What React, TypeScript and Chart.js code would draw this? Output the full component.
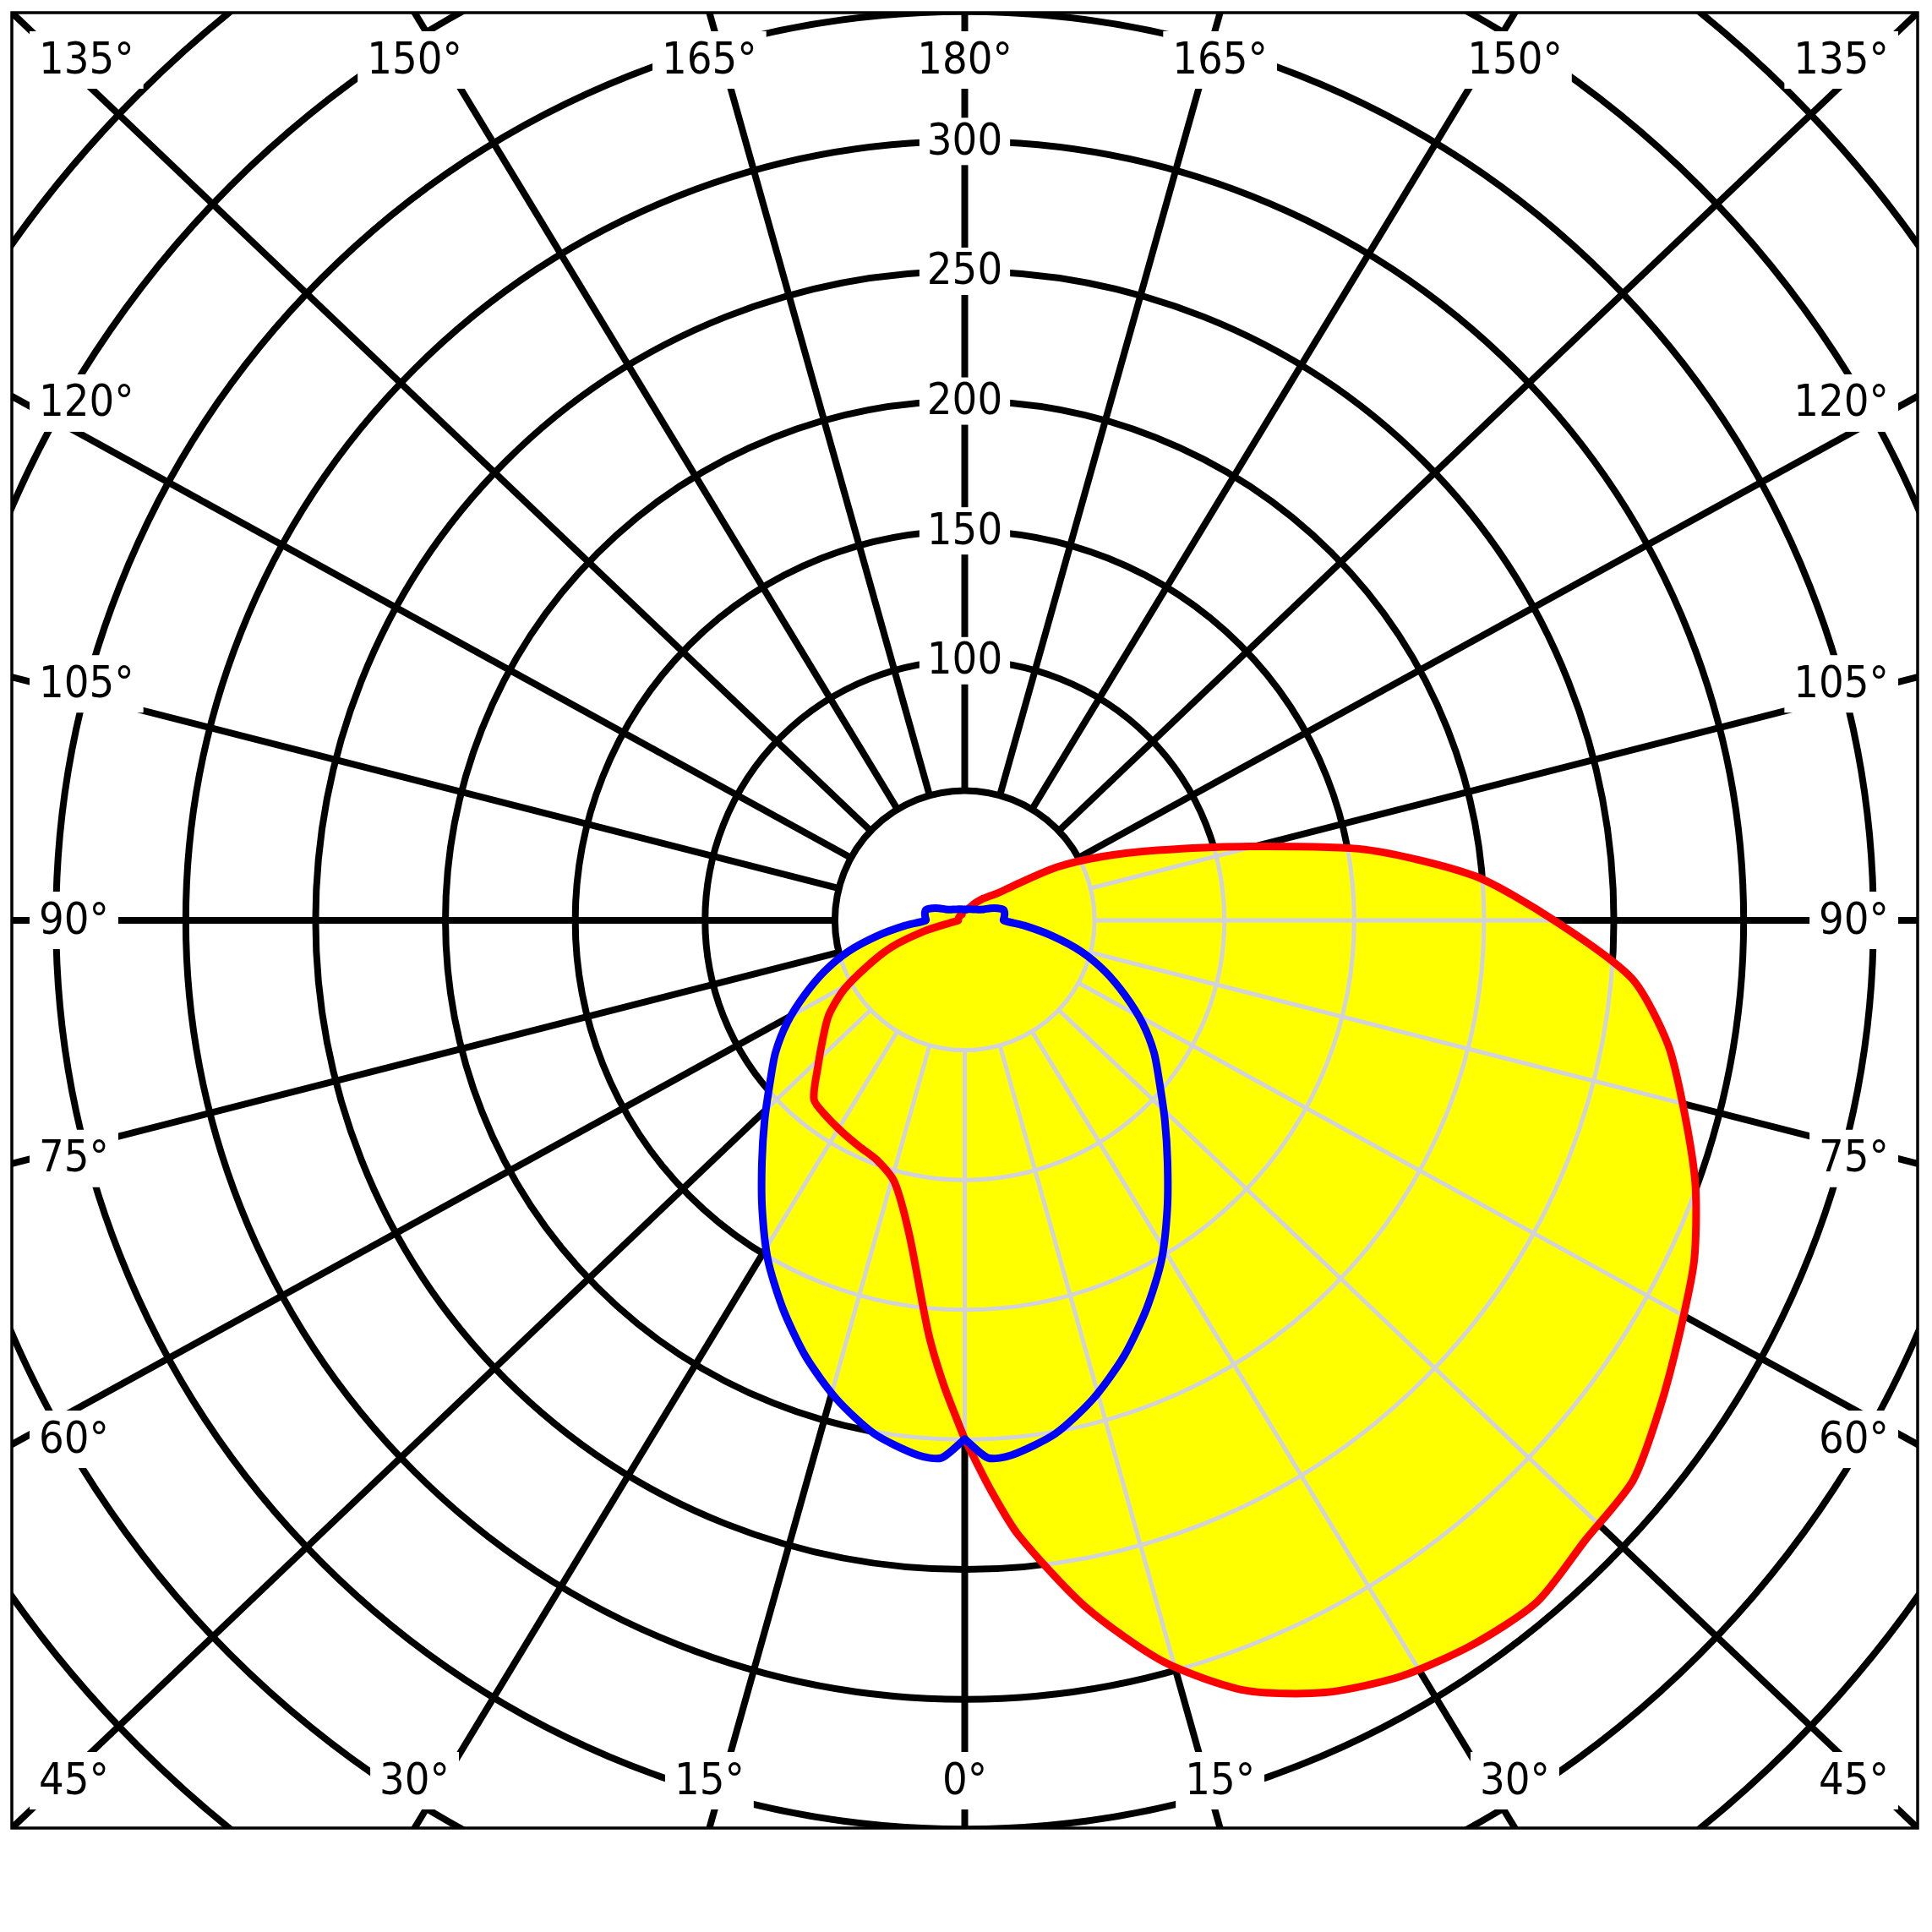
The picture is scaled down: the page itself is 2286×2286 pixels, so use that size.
import React, { useEffect, useRef } from "react";
import { Chart, registerables } from "chart.js";

Chart.register(...registerables);

// Polar angles (gamma, 0° = straight down, 180° = straight up)
const GAMMA = [0, 2.5, 5, 10, 15, 20, 25, 30, 35, 40, 45, 50, 55, 60, 65, 70, 75, 80, 85, 90,
  95, 100, 105, 110, 115, 120, 125, 130, 135, 140, 145, 150, 155, 160, 165, 170, 175, 180];

// Red curve: C0 half (right) and C180 half (left), cd/klm
const RED_C0 = [200, 219, 238, 269, 296, 316, 328.5, 336.5, 341, 343, 338, 336, 327, 318, 310, 299.5,
  287, 275, 258, 227, 197, 157, 110, 79, 58, 41, 24, 16, 13, 11, 9, 7.5, 6, 5, 4.5, 4.3, 4.2, 4.2];
const RED_C180 = [200, 180, 160, 123, 104.5, 98.5, 96.2, 94.3, 92.5, 90.3, 80, 71.4, 64, 54, 41, 29.7,
  16, 6, 3, 2.5, 2.5, 2.5, 2.5, 2.5, 2.5, 2.5, 2.5, 2.5, 2.5, 2.5, 2.5, 2.5, 2.5, 3, 3.5, 4, 4.2, 4.2];

// Blue curve: C90 half (right) and C270 half (left)
const BLUE_C90 = [200, 207.5, 207, 201, 191, 179, 165.5, 151.5, 136, 121.5, 109, 98, 89, 79, 68, 57.5,
  46.5, 34, 23, 15, 15.3, 15.6, 15.5, 13.5, 11, 8.5, 7.3, 6.5, 6, 5.5, 5.2, 5, 4.8, 4.6, 4.5, 4.3, 4.2, 4.2];
const BLUE_C270 = [200, 207.5, 207, 201, 191, 179, 165.5, 151.5, 136, 121.5, 109, 98, 89, 79, 68, 57.5,
  46.5, 34, 23, 15, 15.3, 15.6, 15.5, 13.5, 11, 8.5, 7.3, 6.5, 6, 5.5, 5.2, 5, 4.8, 4.6, 4.5, 4.3, 4.2, 4.2];

// Grid
const RING_VALUES = [50, 100, 150, 200, 250, 300, 350, 400, 450];
const RING_LABEL_VALUES = [100, 150, 200, 250, 300];
const SPOKE_ANGLES = [0, 15, 30, 45, 60, 75, 90, 105, 120, 135, 150, 165, 180];
const X_LIMIT = 367;
const Y_LIMIT = 350;

const FONT = '52px "DejaVu Sans Condensed", "Liberation Sans", sans-serif';
const GRID_DARK = "#000000";
const GRID_LIGHT = "#d2d2da";
const FILL = "#ffff00";

function toXY(values: number[], side: number) {
  return GAMMA.map((g, i) => {
    const rad = (g * Math.PI) / 180;
    return { x: side * values[i] * Math.sin(rad), y: -values[i] * Math.cos(rad) };
  });
}

function loop(right: number[], left: number[]) {
  const r = toXY(right, 1);
  const l = toXY(left, -1).reverse();
  return [...r, ...l];
}

function geom(chart: any) {
  const xs = chart.scales.x;
  const ys = chart.scales.y;
  const cx = xs.getPixelForValue(0);
  const cy = ys.getPixelForValue(0);
  const ppu = Math.abs(xs.getPixelForValue(100) - cx) / 100;
  return { xs, ys, cx, cy, ppu };
}

function drawGrid(ctx: CanvasRenderingContext2D, chart: any, color: string, width: number) {
  const { xs, ys, cx, cy, ppu } = geom(chart);
  ctx.strokeStyle = color;
  ctx.lineWidth = width;
  ctx.lineCap = "butt";
  RING_VALUES.forEach((v) => {
    ctx.beginPath();
    ctx.arc(cx, cy, v * ppu, 0, Math.PI * 2);
    ctx.stroke();
  });
  const inner = RING_VALUES[0] * ppu;
  SPOKE_ANGLES.forEach((a) => {
    [1, -1].forEach((side) => {
      if ((a === 0 || a === 180) && side === -1) return;
      const rad = (a * Math.PI) / 180;
      const ex = xs.getPixelForValue(side * Math.sin(rad) * xs.max) - cx;
      const ey = ys.getPixelForValue(-Math.cos(rad) * ys.max) - cy;
      const len = Math.hypot(ex, ey);
      const ux = ex / len;
      const uy = ey / len;
      ctx.beginPath();
      ctx.moveTo(cx + ux * inner, cy + uy * inner);
      ctx.lineTo(cx + ux * 4000, cy + uy * 4000);
      ctx.stroke();
    });
  });
}

function tracePath(ctx: CanvasRenderingContext2D, meta: any, chart: any) {
  const line = meta.dataset;
  ctx.beginPath();
  if (line && typeof line.path === "function") {
    if (typeof line.updateControlPoints === "function") line.updateControlPoints(chart.chartArea, "x");
    line.path(ctx);
  } else {
    meta.data.forEach((p: any, i: number) => (i ? ctx.lineTo(p.x, p.y) : ctx.moveTo(p.x, p.y)));
  }
  ctx.closePath();
}

function boxedText(ctx: CanvasRenderingContext2D, text: string, x: number, y: number,
  align: "left" | "right" | "center", padX: number, h: number) {
  const w = ctx.measureText(text).width;
  let x0 = x;
  if (align === "center") x0 = x - w / 2;
  if (align === "right") x0 = x - w;
  ctx.fillStyle = "#ffffff";
  ctx.fillRect(x0 - padX, y - h / 2, w + padX * 2, h);
  ctx.fillStyle = "#000000";
  ctx.textAlign = "left";
  ctx.textBaseline = "middle";
  ctx.fillText(text, x0, y + 2);
}

const polarPlugin = {
  id: "polarPhotometric",
  beforeDraw(chart: any) {
    const ctx = chart.ctx;
    ctx.save();
    ctx.fillStyle = "#ffffff";
    ctx.fillRect(0, 0, chart.width, chart.height);
    ctx.restore();
  },
  beforeDatasetsDraw(chart: any) {
    const ctx = chart.ctx as CanvasRenderingContext2D;
    const a = chart.chartArea;
    ctx.save();
    ctx.beginPath();
    ctx.rect(a.left, a.top, a.right - a.left, a.bottom - a.top);
    ctx.clip();
    drawGrid(ctx, chart, GRID_DARK, 8);
    const metas = chart.data.datasets.map((_: any, i: number) => chart.getDatasetMeta(i));
    metas.forEach((m: any) => {
      ctx.save();
      tracePath(ctx, m, chart);
      ctx.clip();
      ctx.fillStyle = FILL;
      ctx.fillRect(a.left, a.top, a.right - a.left, a.bottom - a.top);
      drawGrid(ctx, chart, GRID_LIGHT, 5);
      ctx.restore();
    });
    ctx.restore();
  },
  afterDatasetsDraw(chart: any) {
    const ctx = chart.ctx as CanvasRenderingContext2D;
    const a = chart.chartArea;
    const { xs, ys, cx, cy, ppu } = geom(chart);
    ctx.save();
    ctx.font = FONT;
    RING_LABEL_VALUES.forEach((v) => {
      boxedText(ctx, String(v), cx, cy - v * ppu, "center", 9, 56);
    });
    const topY = a.top + 56;
    const botY = a.bottom - 56;
    SPOKE_ANGLES.forEach((ang) => {
      [1, -1].forEach((side) => {
        if ((ang === 0 || ang === 180) && side === -1) return;
        const rad = (ang * Math.PI) / 180;
        const s = Math.abs(Math.sin(rad));
        const c = Math.abs(Math.cos(rad));
        const t = 1 / Math.max(s, c);
        const ix = xs.getPixelForValue(side * Math.sin(rad) * t * xs.max);
        const iy = ys.getPixelForValue(-Math.cos(rad) * t * ys.max);
        const text = `${ang}°`;
        const rowY = Math.cos(rad) < 0 ? topY : botY;
        if (s < c - 1e-6) {
          boxedText(ctx, text, ix, rowY, "center", 11, 68);
        } else {
          let y = s > c + 1e-6 ? iy : rowY;
          if (s > c + 1e-6 && ang !== 90) y += Math.cos(rad) < 0 ? 8 : -6;
          if (side < 0) boxedText(ctx, text, a.left + 32, y, "left", 11, 68);
          else boxedText(ctx, text, a.right - 34, y, "right", 11, 68);
        }
      });
    });
    ctx.strokeStyle = "#000000";
    ctx.lineWidth = 3.5;
    ctx.strokeRect(a.left, a.top, a.right - a.left, a.bottom - a.top);
    ctx.restore();
  },
};

export default function App() {
  const canvasRef = useRef<HTMLCanvasElement | null>(null);

  useEffect(() => {
    const canvas = canvasRef.current;
    if (!canvas) return;
    const common = {
      showLine: true,
      borderWidth: 9,
      pointRadius: 0,
      tension: 0.25,
      fill: false,
      borderJoinStyle: "round",
      borderCapStyle: "round",
    };
    const chart = new Chart(canvas, {
      type: "scatter",
      data: {
        datasets: [
          {
            ...common,
            label: "C90 - C270",
            data: loop(BLUE_C90, BLUE_C270),
            borderColor: "#0000ff",
            backgroundColor: "#0000ff",
          },
          {
            ...common,
            label: "C0 - C180",
            data: loop(RED_C0, RED_C180),
            borderColor: "#ff0000",
            backgroundColor: "#ff0000",
          },
        ],
      } as any,
      options: {
        responsive: false,
        animation: false,
        devicePixelRatio: 1,
        events: [],
        layout: { padding: { left: 14, right: 17, top: 15, bottom: 123 } },
        scales: {
          x: { type: "linear", min: -X_LIMIT, max: X_LIMIT, display: false },
          y: { type: "linear", min: -Y_LIMIT, max: Y_LIMIT, display: false },
        },
        plugins: { legend: { display: false }, tooltip: { enabled: false } },
      } as any,
      plugins: [polarPlugin as any],
    });
    return () => chart.destroy();
  }, []);

  return (
    <div style={{ position: "absolute", left: 0, top: 0, width: 2286, height: 2286, background: "#fff" }}>
      <canvas ref={canvasRef} width={2286} height={2286} style={{ display: "block" }} />
    </div>
  );
}
